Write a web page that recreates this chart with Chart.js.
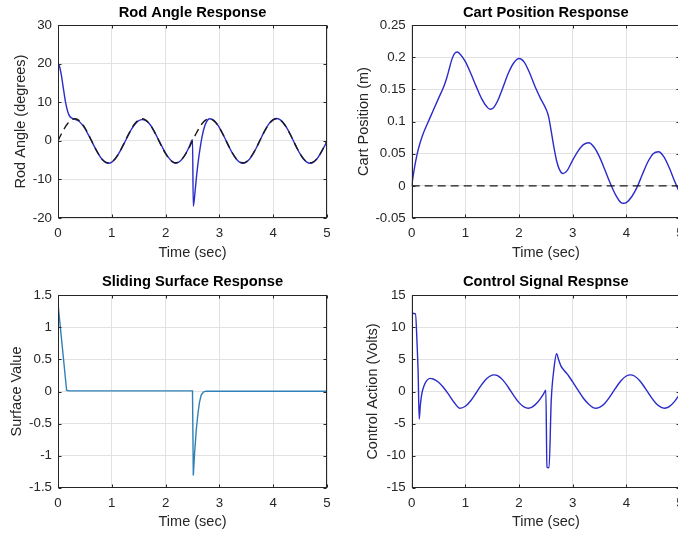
<!DOCTYPE html>
<html>
<head>
<meta charset="utf-8">
<script src="https://cdn.jsdelivr.net/npm/chart.js@4.4.1/dist/chart.umd.min.js"></script>
<style>
html,body{margin:0;padding:0;background:#fff;}
body{width:678px;height:534px;overflow:hidden;position:relative;}
.box{position:absolute;}
</style>
</head>
<body>
<div class="box" style="left:0;top:0;width:340px;height:267px"><canvas id="c1" width="340" height="267"></canvas></div>
<div class="box" style="left:340px;top:0;width:353px;height:267px"><canvas id="c2" width="353" height="267"></canvas></div>
<div class="box" style="left:0;top:267px;width:340px;height:267px"><canvas id="c3" width="340" height="267"></canvas></div>
<div class="box" style="left:340px;top:267px;width:353px;height:267px"><canvas id="c4" width="353" height="267"></canvas></div>
<script>
// ---------- DATA ----------
// x ticks (time, sec)
const timeTicks = [0, 1, 2, 3, 4, 5];

// Rod angle: reference (dashed)
const rodRefT = [0,0.0625,0.125,0.1875,0.25,0.3125,0.375,0.4375,0.5,0.5625,0.625,0.6875,0.75,0.8125,0.875,0.9375,1,1.0625,1.125,1.1875,
  1.25,1.3125,1.375,1.4375,1.5,1.5625,1.625,1.6875,1.75,1.8125,1.875,1.9375,2,2.0625,2.125,2.1875,2.25,2.3125,2.375,2.4375,
  2.5,2.5625,2.625,2.6875,2.75,2.8125,2.875,2.9375,3,3.0625,3.125,3.1875,3.25,3.3125,3.375,3.4375,3.5,3.5625,3.625,3.6875,
  3.75,3.8125,3.875,3.9375,4,4.0625,4.125,4.1875,4.25,4.3125,4.375,4.4375,4.5,4.5625,4.625,4.6875,4.75,4.8125,4.875,4.9375,5];
const rodRefY = [0,1.76,3.35,4.61,5.42,5.7,5.42,4.61,3.35,1.76,0,-1.76,-3.35,-4.61,-5.42,-5.7,-5.42,-4.61,-3.35,-1.76,
  0,1.76,3.35,4.61,5.42,5.7,5.42,4.61,3.35,1.76,0,-1.76,-3.35,-4.61,-5.42,-5.7,-5.42,-4.61,-3.35,-1.76,
  0,1.76,3.35,4.61,5.42,5.7,5.42,4.61,3.35,1.76,0,-1.76,-3.35,-4.61,-5.42,-5.7,-5.42,-4.61,-3.35,-1.76,
  0,1.76,3.35,4.61,5.42,5.7,5.42,4.61,3.35,1.76,0,-1.76,-3.35,-4.61,-5.42,-5.7,-5.42,-4.61,-3.35,-1.76,0];

// Rod angle: response (blue)
const rodT = [0,0.03,0.06,0.1,0.14,0.18,0.22,0.27,0.3125,0.375,0.4375,0.5,0.5625,0.625,0.6875,0.75,0.8125,0.875,0.9375,1,
  1.0625,1.125,1.1875,1.25,1.3125,1.375,1.4375,1.5,1.5625,1.625,1.6875,1.75,1.8125,1.875,1.9375,2,2.0625,2.125,2.1875,2.25,
  2.3125,2.375,2.4375,2.5,2.515,2.55,2.58,2.61,2.64,2.68,2.72,2.76,2.8125,2.875,2.9375,3,3.0625,3.125,3.1875,3.25,
  3.3125,3.375,3.4375,3.5,3.5625,3.625,3.6875,3.75,3.8125,3.875,3.9375,4,4.0625,4.125,4.1875,4.25,4.3125,4.375,4.4375,4.5,
  4.5625,4.625,4.6875,4.75,4.8125,4.875,4.9375,5];
const rodY = [20,19.2,17.2,13.6,10,7.6,6.3,5.8,5.6,5.2,4.4,3.2,1.6,-0.1,-1.8,-3.4,-4.7,-5.5,-5.8,-5.5,
  -4.7,-3.4,-1.8,-0.1,1.6,3.2,4.4,5.2,5.5,5.3,4.6,3.4,1.8,0.1,-1.6,-3.2,-4.5,-5.4,-5.8,-5.5,
  -4.6,-3.3,-1.6,0.3,-17,-12.8,-8.5,-5,-2,1.2,3.5,4.9,5.7,5.5,4.7,3.4,1.8,0,-1.8,-3.4,
  -4.7,-5.5,-5.8,-5.5,-4.7,-3.4,-1.8,0,1.8,3.4,4.7,5.5,5.8,5.5,4.7,3.4,1.8,0,-1.8,-3.4,
  -4.7,-5.5,-5.8,-5.5,-4.7,-3.4,-1.8,-0.2];

// Cart position (blue) and zero reference (dashed)
const cartT = [0,0.05,0.1,0.15,0.2,0.3,0.4,0.5,0.6,0.65,0.7,0.75,0.8,0.85,0.9,1,1.1,1.2,1.3,1.4,1.46,1.52,1.6,1.7,1.8,1.9,2,2.1,2.2,2.3,2.4,2.5,
  2.55,2.6,2.65,2.7,2.75,2.82,2.9,3,3.1,3.2,3.3,3.4,3.5,3.6,3.7,3.8,3.9,3.95,4,4.1,4.2,4.3,4.4,4.5,4.6,4.7,4.8,4.9,5];
const cartY = [0,0.027,0.049,0.065,0.078,0.098,0.117,0.136,0.155,0.167,0.182,0.197,0.206,0.208,0.205,0.193,0.175,0.155,0.136,0.123,0.119,0.121,
  0.132,0.153,0.175,0.191,0.198,0.192,0.175,0.154,0.136,0.12,0.108,0.085,0.06,0.039,0.026,0.019,0.024,0.04,0.054,0.064,0.067,0.06,
  0.045,0.025,0.004,-0.014,-0.026,-0.027,-0.026,-0.017,-0.002,0.018,0.037,0.05,0.053,0.045,0.028,0.007,-0.012];
const cartRefT = [0, 5];
const cartRefY = [0, 0];

// Sliding surface
const surfT = [0,0.16,0.2,2.5,2.515,2.54,2.57,2.6,2.63,2.66,2.7,2.75,5];
const surfY = [1.37,0.02,0.01,0.01,-1.31,-0.95,-0.6,-0.35,-0.17,-0.06,-0.01,0.005,0.005];

// Control signal
const ctrlT = [0,0.07,0.1,0.12,0.14,0.16,0.19,0.23,0.28,0.34,0.4,0.5,0.6,0.7,0.8,0.9,1,1.1,1.2,1.3,1.4,1.5,1.535,1.6,1.7,1.8,
  1.9,2,2.1,2.17,2.25,2.35,2.45,2.5,2.52,2.56,2.6,2.65,2.7,2.74,2.78,2.85,2.92,3,3.1,3.2,3.3,3.38,3.44,3.5,3.6,3.7,3.8,3.9,
  4,4.075,4.15,4.25,4.35,4.45,4.55,4.65,4.71,4.8,4.9,5];
const ctrlY = [12.2,12.1,7.5,3,-4.3,-2.2,-0.3,0.9,1.7,2.05,1.95,1.45,0.55,-0.6,-1.8,-2.6,-2.29,-1.43,-0.23,1.03,2.04,2.56,2.6,2.47,
  1.78,0.67,-0.61,-1.73,-2.44,-2.6,-2.4,-1.64,-0.48,0.2,-11.8,-11.9,-1.5,3.5,5.9,4.9,4.0,3.2,2.5,1.5,0.2,-1.05,-2.0,-2.5,-2.6,
  -2.49,-1.83,-0.73,0.54,1.69,2.42,2.6,2.42,1.69,0.54,-0.73,-1.83,-2.49,-2.6,-2.35,-1.53,-0.35];

// Y tick settings
const rodTicks = [-20, -10, 0, 10, 20, 30];
const cartTicks = [-0.05, 0, 0.05, 0.1, 0.15, 0.2, 0.25];
const surfTicks = [-1.5, -1, -0.5, 0, 0.5, 1, 1.5];
const ctrlTicks = [-15, -10, -5, 0, 5, 10, 15];

// ---------- STYLE / BUILD ----------
const FONT = '"Liberation Sans", Arial, Helvetica, sans-serif';
Chart.defaults.font.family = FONT;
Chart.defaults.color = '#262626';

const BLUE = '#2b2bcc';
const SURF = '#2f80b8';
const DASH = '#1a1a1a';

function pts(t, y) { return t.map((v, i) => ({x: v, y: y[i]})); }

const framePlugin = {
  id: 'frame',
  afterDatasetsDraw(chart) {
    const {ctx, chartArea: a, scales} = chart;
    ctx.save();
    ctx.strokeStyle = '#262626';
    ctx.lineWidth = 1;
    const L = Math.round(a.left) + 0.5, R = Math.round(a.right) - 0.5;
    const T = Math.round(a.top) + 0.5, B = Math.round(a.bottom) - 0.5;
    ctx.strokeRect(L, T, R - L, B - T);
    const tl = 3;
    ctx.beginPath();
    scales.x.ticks.forEach(tk => {
      const px = Math.round(scales.x.getPixelForValue(tk.value)) + 0.5;
      ctx.moveTo(px, B); ctx.lineTo(px, B - tl);
      ctx.moveTo(px, T); ctx.lineTo(px, T + tl);
    });
    scales.y.ticks.forEach(tk => {
      const py = Math.round(scales.y.getPixelForValue(tk.value)) + 0.5;
      ctx.moveTo(L, py); ctx.lineTo(L + tl, py);
      ctx.moveTo(R, py); ctx.lineTo(R - tl, py);
    });
    ctx.stroke();
    ctx.restore();
  }
};

function fmt(v) { return String(parseFloat(Number(v).toFixed(4))); }

function makeChart(id, o) {
  return new Chart(document.getElementById(id), {
    type: 'line',
    data: { datasets: o.datasets },
    plugins: [framePlugin],
    options: {
      responsive: false,
      animation: false,
      devicePixelRatio: 1,
      layout: { padding: { left: 0, right: 13, top: 0, bottom: 0 } },
      elements: { point: { radius: 0 } },
      plugins: {
        legend: { display: false },
        tooltip: { enabled: false },
        title: {
          display: true, text: o.title, fullSize: false,
          color: '#000', font: { size: 14.7, weight: 'bold', family: FONT },
          padding: { top: o.tPadTop, bottom: o.tPadBot }
        }
      },
      scales: {
        x: {
          type: 'linear', min: timeTicks[0], max: timeTicks[timeTicks.length - 1],
          afterBuildTicks: s => { s.ticks = timeTicks.map(v => ({value: v})); },
          afterFit: s => { s.height = o.xH; },
          ticks: { font: { size: 13.3 }, padding: 7.5, color: '#262626', maxRotation: 0, callback: fmt },
          grid: { color: '#e2e2e2', drawTicks: false },
          border: { display: false },
          title: { display: true, text: 'Time (sec)', font: { size: 14.5 }, color: '#262626', padding: { top: 0, bottom: o.xtPad } }
        },
        y: {
          type: 'linear', min: o.yTicks[0], max: o.yTicks[o.yTicks.length - 1],
          afterBuildTicks: s => { s.ticks = o.yTicks.map(v => ({value: v})); },
          afterFit: s => { s.width = o.yW; },
          ticks: { font: { size: 13.3 }, padding: 6, color: '#262626', callback: fmt },
          grid: { color: '#e2e2e2', drawTicks: false },
          border: { display: false },
          title: { display: true, text: o.yTitle, font: { size: 14.5 }, color: '#262626', padding: { top: o.ytPad, bottom: 0 } }
        }
      }
    }
  });
}

makeChart('c1', {
  title: 'Rod Angle Response', yTitle: 'Rod Angle (degrees)', yTicks: rodTicks,
  tPadTop: 3.9, tPadBot: 3.5, xH: 49, xtPad: 5.3, yW: 58, ytPad: 12,
  datasets: [
    { data: pts(rodRefT, rodRefY), borderColor: DASH, borderWidth: 1.4, borderDash: [8, 5], cubicInterpolationMode: 'monotone', fill: false },
    { data: pts(rodT, rodY), borderColor: BLUE, borderWidth: 1.4, cubicInterpolationMode: 'monotone', fill: false }
  ]
});

makeChart('c2', {
  title: 'Cart Position Response', yTitle: 'Cart Position (m)', yTicks: cartTicks,
  tPadTop: 3.9, tPadBot: 3.5, xH: 49, xtPad: 5.3, yW: 71.7, ytPad: 15,
  datasets: [
    { data: pts(cartRefT, cartRefY), borderColor: DASH, borderWidth: 1.4, borderDash: [8, 5], tension: 0, fill: false },
    { data: pts(cartT, cartY), borderColor: BLUE, borderWidth: 1.4, cubicInterpolationMode: 'monotone', fill: false }
  ]
});

makeChart('c3', {
  title: 'Sliding Surface Response', yTitle: 'Surface Value', yTicks: surfTicks,
  tPadTop: 6.2, tPadBot: 4.5, xH: 46.3, xtPad: 3.3, yW: 58, ytPad: 8,
  datasets: [
    { data: pts(surfT, surfY), borderColor: SURF, borderWidth: 1.4, tension: 0, fill: false }
  ]
});

makeChart('c4', {
  title: 'Control Signal Respnse', yTitle: 'Control Action (Volts)', yTicks: ctrlTicks,
  tPadTop: 6.2, tPadBot: 4.5, xH: 46.3, xtPad: 3.3, yW: 71.7, ytPad: 24.6,
  datasets: [
    { data: pts(ctrlT, ctrlY), borderColor: BLUE, borderWidth: 1.4, cubicInterpolationMode: 'monotone', fill: false }
  ]
});
</script>
</body>
</html>
